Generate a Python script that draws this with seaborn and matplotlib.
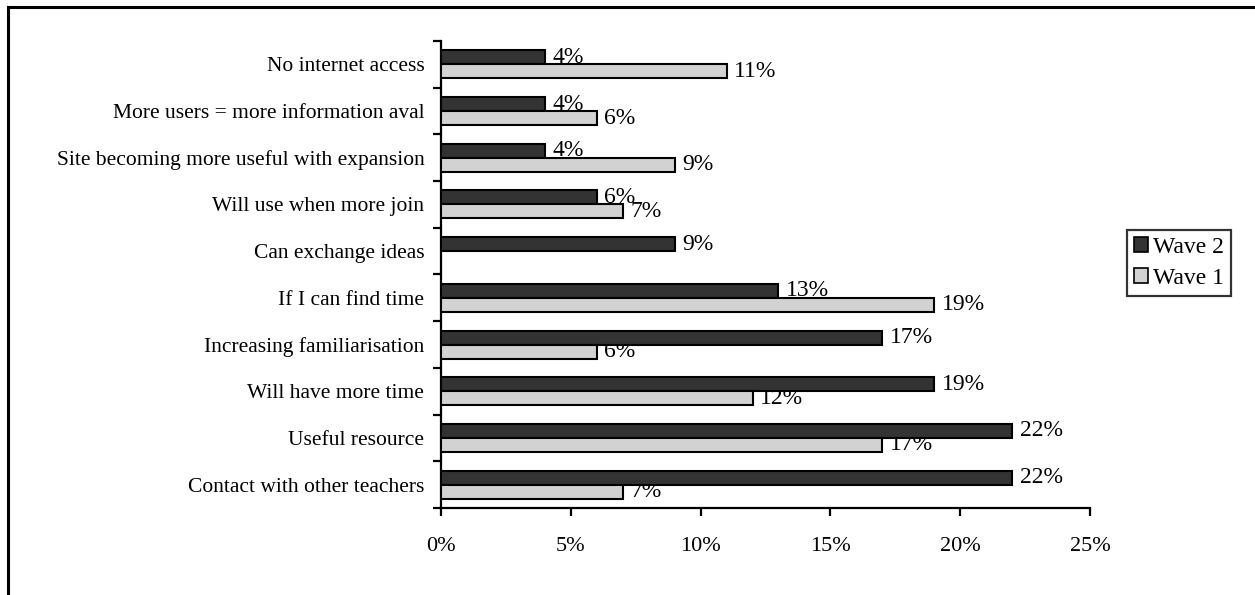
import numpy as np
import pandas as pd
import matplotlib
matplotlib.use("Agg")
import matplotlib.pyplot as plt
import seaborn as sns
from matplotlib.lines import Line2D
from matplotlib.ticker import FuncFormatter, FixedLocator

categories = [
    "No internet access",
    "More users = more information aval",
    "Site becoming more useful with expansion",
    "Will use when more join",
    "Can exchange ideas",
    "If I can find time",
    "Increasing familiarisation",
    "Will have more time",
    "Useful resource",
    "Contact with other teachers",
]
wave2 = [4, 4, 4, 6, 9, 13, 17, 19, 22, 22]
wave1 = [11, 6, 9, 7, np.nan, 19, 6, 12, 17, 7]
series = ["Wave 2", "Wave 1"]
xticks = [0, 5, 10, 15, 20, 25]

df = pd.DataFrame({
    "category": categories * 2,
    "wave": [series[0]] * len(categories) + [series[1]] * len(categories),
    "value": wave2 + wave1,
})

sns.set_theme(style="white")
plt.rcParams["font.family"] = ["Liberation Serif", "DejaVu Serif"]
plt.rcParams["text.color"] = "black"
FS = 15.5
FS_DATA = 17
FS_X = 16
FS_LEG = 17

fig = plt.figure(figsize=(12.55, 5.95), dpi=100)
ax = fig.add_axes([441 / 1255, 1 - 508 / 595, (1090 - 441) / 1255, (508 - 41) / 595])

colors = {"Wave 2": "#333333", "Wave 1": "#D2D2D2"}
sns.barplot(data=df, y="category", x="value", hue="wave", hue_order=series,
            order=categories, orient="h", palette=colors, width=0.6,
            edgecolor="black", linewidth=1.5, saturation=1, ax=ax, zorder=3,
            errorbar=None)

# labels under bars (so following bars overlap them, as in the original)
for cont in ax.containers:
    for p in cont.patches:
        w = p.get_width()
        if not np.isfinite(w) or w <= 0:
            continue
        yc = p.get_y() + p.get_height() / 2
        ax.annotate(f"{w:.0f}%", xy=(w, yc), xytext=(5.5, 0), textcoords="offset points",
                    va="center", ha="left", fontsize=FS_DATA, color="black", zorder=1)

ax.set_xlim(0, 25)
ax.set_xticks(xticks)
ax.xaxis.set_major_formatter(FuncFormatter(lambda v, p: f"{v:.0f}%"))
ax.set_ylim(len(categories) - 0.5, -0.5)
ax.set_xlabel("")
ax.set_ylabel("")

for s in ["top", "right"]:
    ax.spines[s].set_visible(False)
for s in ["left", "bottom"]:
    ax.spines[s].set_visible(True)
    ax.spines[s].set_color("black")
    ax.spines[s].set_linewidth(1.6)

ax.tick_params(axis="x", which="major", direction="out", length=6, width=1.6,
               color="black", labelsize=FS_X, labelcolor="black", pad=15, bottom=True)
ax.yaxis.set_minor_locator(FixedLocator(np.arange(len(categories) + 1) - 0.5))
ax.tick_params(axis="y", which="major", length=0, labelsize=FS, labelcolor="black", pad=12, left=True)
ax.tick_params(axis="y", which="minor", direction="out", length=6, width=1.6, color="black", left=True)
ax.grid(False)

handles, labels = ax.get_legend_handles_labels()
if ax.get_legend() is not None:
    ax.get_legend().remove()
leg = ax.legend(handles, labels, loc="center", bbox_to_anchor=(1179 / 1255, 1 - 263 / 595),
                bbox_transform=fig.transFigure, fontsize=FS_LEG, frameon=True, fancybox=False,
                handlelength=0.62, handleheight=0.62, handletextpad=0.2, borderpad=0.3,
                labelspacing=0.42, borderaxespad=0)
leg.get_frame().set_edgecolor("black")
leg.get_frame().set_linewidth(1.6)
for t in leg.get_texts():
    t.set_color("black")
for h in leg.legend_handles:
    h.set_edgecolor("black")
    h.set_linewidth(1.2)

# outer frame (left and top edges visible in the original)
fig.add_artist(Line2D([8 / 1255, 8 / 1255], [0, 1 - 7 / 595], transform=fig.transFigure,
                      color="black", linewidth=2.2, solid_capstyle="projecting"))
fig.add_artist(Line2D([8 / 1255, 1], [1 - 7 / 595, 1 - 7 / 595], transform=fig.transFigure,
                      color="black", linewidth=2.2, solid_capstyle="projecting"))

fig.savefig("out.png", dpi=100)
